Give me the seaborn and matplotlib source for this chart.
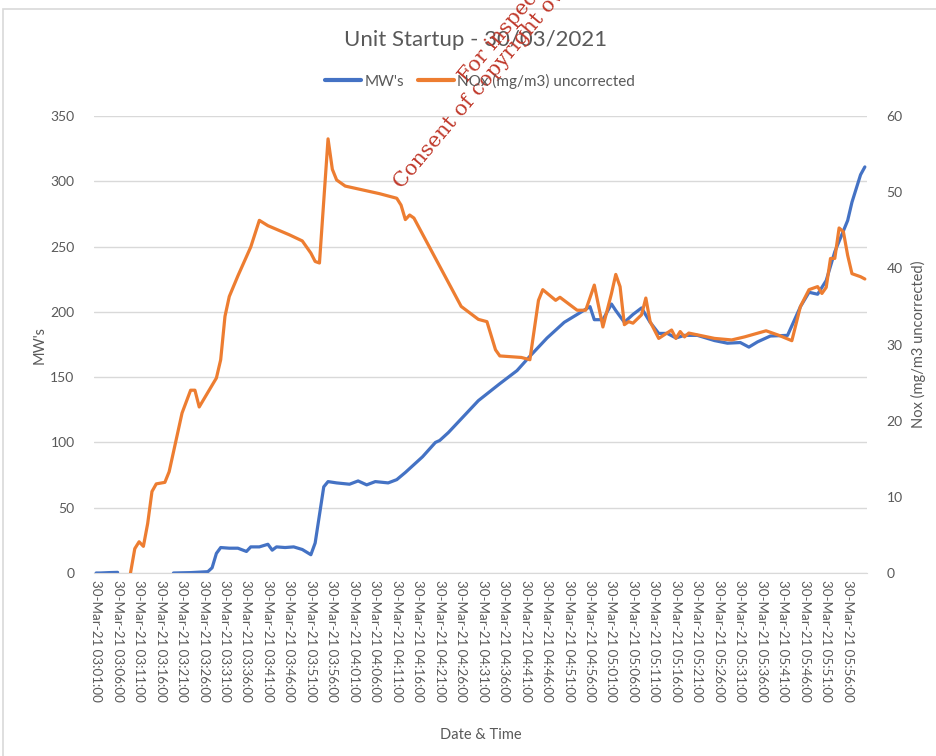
import numpy as np
import pandas as pd
import seaborn as sns
import matplotlib.pyplot as plt
from matplotlib.lines import Line2D
from matplotlib.patches import Rectangle

# minutes after 03:01 on 30-Mar-21
mw_min = [0, 1, 3, 5,
          18, 22, 26, 27, 28, 29, 31, 33, 35, 36, 38, 40, 41, 42, 44, 46, 48, 50, 51, 53, 54, 56, 59,
          61, 63, 65, 68, 70, 72, 74, 76, 79, 80, 82, 85, 89, 94, 98, 101, 105, 109, 113, 115, 116,
          118, 120, 121, 123, 125, 127, 129, 131, 133, 135, 137, 140, 144, 147, 150, 152, 154, 157,
          161, 164, 166, 168, 170, 172, 175, 176, 178, 179]
mw_val = [0, 0, 0.3, 0.5,
          0, 0.3, 1, 4, 15, 19.5, 19, 19, 16.5, 20, 20, 22, 17.5, 20, 19.5, 20, 18, 14, 23, 66, 70, 69, 68,
          70.5, 67.5, 70, 69, 71.5, 77, 83, 89, 100, 101.5, 107.5, 118, 132, 145, 155, 166, 180, 192, 200, 204, 194,
          194, 206, 201, 192, 198, 203, 192, 183.5, 183.5, 180, 182, 182, 178, 176, 176.5, 173, 177, 181.5,
          182, 204, 215, 213.5, 224, 246, 270, 284, 305, 311]
mw_seg = [0] * 4 + [1] * (len(mw_min) - 4)

nox_min = [8, 9, 10, 11, 12, 13, 14, 16, 17, 20, 22, 23, 24, 28, 29, 30, 31, 33, 36, 38, 40, 45, 48, 50,
           51, 52, 54, 55, 56, 58, 62, 66, 70, 71, 72, 73, 74, 85, 89, 91, 93, 94, 99, 101, 103, 104, 107,
           108, 112, 114, 116, 118, 120, 121, 122, 123, 124, 125, 127, 128, 129, 131, 134, 135, 136, 137,
           138, 144, 148, 151, 156, 159, 162, 164, 166, 168, 169, 170, 171, 172, 173, 174, 175, 176, 178, 179]
nox_val = [0, 3.2, 4.1, 3.5, 6.5, 10.7, 11.7, 11.9, 13.3, 21, 24, 24, 21.8, 25.6, 28, 33.7, 36.3, 39, 42.8, 46.3,
           45.6, 44.4, 43.6, 42, 40.9, 40.7, 57, 53, 51.6, 50.8, 50.3, 49.8, 49.2, 48.3, 46.4, 47, 46.6, 35, 33.3,
           33, 29.3, 28.5, 28.3, 28, 35.8, 37.2, 35.8, 36.2, 34.5, 34.5, 37.8, 32.3, 36.7, 39.2, 37.6, 32.6, 33,
           32.8, 33.9, 36.1, 33, 30.8, 31.9, 30.8, 31.7, 31, 31.5, 30.8, 30.6, 31, 31.8, 31.2, 30.5, 35, 37.2,
           37.6, 36.7, 37.5, 41.3, 41.3, 45.3, 44.8, 41.7, 39.3, 38.9, 38.6]

tick_times = ['03:01', '03:06', '03:11', '03:16', '03:21', '03:26', '03:31', '03:36', '03:41', '03:46',
              '03:51', '03:56', '04:01', '04:06', '04:11', '04:16', '04:21', '04:26', '04:31', '04:36',
              '04:41', '04:46', '04:51', '04:56', '05:01', '05:06', '05:11', '05:16', '05:21', '05:26',
              '05:31', '05:36', '05:41', '05:46', '05:51', '05:56']
tick_labels = ['30-Mar-21 ' + t + ':00' for t in tick_times]

blue = '#4472C4'
orange = '#ED7D31'
grey = '#595959'

sns.set_style('white')
plt.rcParams['font.family'] = ['Lato', 'DejaVu Sans']

mw = pd.DataFrame({'minute': mw_min, 'MW': mw_val, 'seg': mw_seg})
nox = pd.DataFrame({'minute': nox_min, 'NOx': nox_val})

fig = plt.figure(figsize=(9.36, 7.56), dpi=100)
ax = fig.add_axes([94 / 936, 1 - 573 / 756, 773 / 936, 457 / 756])
ax2 = ax.twinx()

sns.lineplot(data=mw, x='minute', y='MW', units='seg', estimator=None, color=blue,
             linewidth=2.3, ax=ax)
sns.lineplot(data=nox, x='minute', y='NOx', color=orange, linewidth=2.3, ax=ax2)

ax.set_xlim(-0.5, 179.5)
ax.set_ylim(0, 350)
ax2.set_ylim(0, 60)
ax.set_yticks(np.arange(0, 351, 50))
ax2.set_yticks(np.arange(0, 61, 10))
ax.set_xticks(np.arange(0, 176, 5))
ax.set_xticklabels(tick_labels, rotation=270, fontsize=9.6, color=grey)
ax.set_xticks(np.arange(-0.5, 180, 1), minor=True)

ax.grid(axis='y', color='#D9D9D9', linewidth=1)
ax.set_axisbelow(True)
for a in (ax, ax2):
    for s in a.spines.values():
        s.set_visible(False)
ax.spines['bottom'].set_visible(True)
ax.spines['bottom'].set_color('#D9D9D9')

ax.tick_params(axis='y', length=0, pad=14, labelsize=10, labelcolor=grey)
ax2.tick_params(axis='y', length=0, pad=14, labelsize=10, labelcolor=grey)
ax.tick_params(axis='x', which='major', length=0, pad=5)
ax.tick_params(axis='x', which='minor', length=4, color='#D9D9D9', width=0.8)

ax.set_xlabel('Date & Time', fontsize=10.5, color=grey, labelpad=19)
ax.set_ylabel("MW's", fontsize=10.5, color=grey, labelpad=3)
ax2.set_ylabel('Nox (mg/m3 uncorrected)', fontsize=10.5, color=grey, labelpad=6)

fig.text(476 / 936, 1 - 40 / 756, 'Unit Startup - 30/03/2021', ha='center', va='center',
         fontsize=16, color=grey)

handles = [Line2D([], [], color=blue, linewidth=3), Line2D([], [], color=orange, linewidth=3)]
fig.legend(handles, ["MW's", 'NOx (mg/m3) uncorrected'], loc='center', ncol=2,
           bbox_to_anchor=(480 / 936, 1 - 81 / 756), frameon=False, fontsize=11,
           labelcolor=grey, handlelength=2.4, handletextpad=0.2, columnspacing=0.9)

# chart border
fig.patches.append(Rectangle((3 / 936, -0.1), 1.2, 1 - 9 / 756 + 0.1, transform=fig.transFigure,
                             fill=False, edgecolor='#D9D9D9', linewidth=1.2))

# watermark stamped on the source document
fig.text(405 / 936, 1 - 192 / 756, 'Consent of copyright owner required for any other use.',
         rotation=50, fontsize=15, color='#C0392B', family='DejaVu Serif',
         ha='left', va='bottom', rotation_mode='anchor')
fig.text(470 / 936, 1 - 86 / 756, 'For inspection purposes only.',
         rotation=50, fontsize=15, color='#C0392B', family='DejaVu Serif',
         ha='left', va='bottom', rotation_mode='anchor')

fig.savefig('out.png', dpi=100)
